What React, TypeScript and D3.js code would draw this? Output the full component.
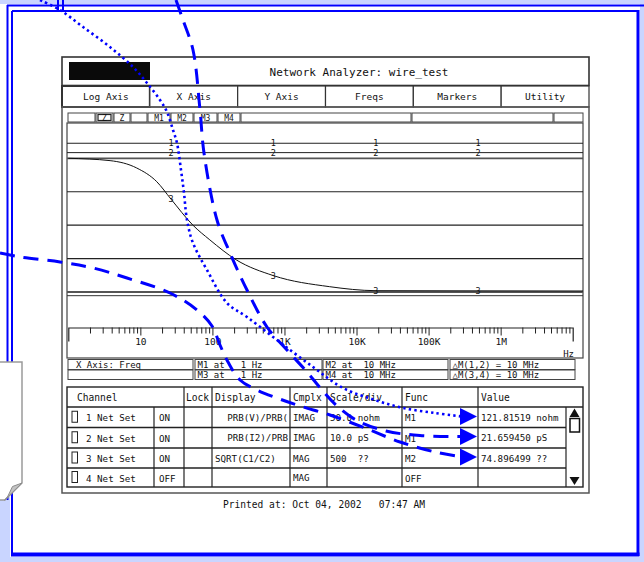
import React, { useEffect, useRef } from 'react'
import * as d3 from 'd3'

// ---- values ----
const tabs = ['Log Axis', 'X Axis', 'Y Axis', 'Freqs', 'Markers', 'Utility']
const toolButtons = ['', 'Z', 'Z', '', 'M1', 'M2', 'M3', 'M4', '', '', '']
const decades = [1, 10, 100, 1e3, 1e4, 1e5, 1e6, 1e7]
const decadeLabels = ['', '10', '100', '1K', '10K', '100K', '1M', '']
const markerFreqs = [26.6, 702, 18500, 487000]

// traces, in graticule divisions
const trace3Freqs = [1, 3.8, 8.9, 16.9, 26.6, 53.6, 92, 215, 702, 4200, 18500, 1.39e7]
const trace3Divs = [4.0, 3.93, 3.71, 3.3, 2.78, 2.0, 1.56, 0.96, 0.49, 0.16, 0.04, 0.03]
const trace1Div = 4.45
const trace2Div = 4.17
const trace4Div = -0.11

const infoRow1 = ['X Axis: Freq', 'M1 at   1 Hz', 'M2 at  10 MHz', '\u25B3M(1,2) = 10 MHz']
const infoRow2 = ['', 'M3 at   1 Hz', 'M4 at  10 MHz', '\u25B3M(3,4) = 10 MHz']

const headers = ['Channel', 'Lock', 'Display', 'Cmplx', 'Scale/div', 'Func', 'Value']
const channels = ['1 Net Set', '2 Net Set', '3 Net Set', '4 Net Set']
const states = ['ON', 'ON', 'ON', 'OFF']
const displays = ['PRB(V)/PRB(', 'PRB(I2)/PRB', 'SQRT(C1/C2)', '']
const cmplx = ['IMAG', 'IMAG', 'MAG', 'MAG']
const scales = ['50.0 nohm', '10.0 pS', '500  ??', '']
const funcs = ['M1', 'M1', 'M2', 'OFF']
const values = ['121.81519 nohm', '21.659450 pS', '74.896499 ??', '']
const printedAt = 'Printed at: Oct 04, 2002   07:47 AM'

// blue hand-drawn call-outs (page pixels)
const dottedPath: [number, number][] = [
    [40, 0], [60, 10], [83, 27], [110, 47], [133, 67], [147, 83], [160, 100], [167, 112],
    [173, 130], [177, 143], [181, 170], [184, 193], [187, 220], [193, 243], [207, 270],
    [227, 303], [247, 317], [277, 340], [313, 367], [343, 388], [375, 400], [403, 408],
    [435, 413], [462, 416.5],
]
const topDashPath: [number, number][] = [
    [176, 0], [183, 20], [193, 50], [200, 110], [204, 153], [217, 220], [230, 253],
    [247, 290], [267, 327], [287, 350], [307, 372], [322, 390], [336, 405], [356, 420],
    [386, 431], [420, 435.5], [462, 436.5],
]
const leftDashPath: [number, number][] = [
    [0, 253], [20, 257], [60, 262], [93, 268], [127, 278], [170, 293], [197, 310],
    [212, 326], [220, 345], [228, 362], [240, 380], [257, 390], [277, 398], [300, 406],
    [330, 415], [365, 428], [400, 442], [435, 452], [462, 457],
]

const FONT = '"DejaVu Sans Mono", "Liberation Mono", monospace'
const BLUE = '#0000ff'
const LIGHT = '#c9d5ff'

export default function App() {
    const svgRef = useRef<SVGSVGElement>(null)

    useEffect(() => {
        const svg = d3.select(svgRef.current)
        svg.selectAll('*').remove()

        const box = (x0: number, y0: number, x1: number, y1: number, stroke = '#444', sw = 1, fill = 'none') =>
            svg.append('rect').attr('x', x0).attr('y', y0).attr('width', x1 - x0).attr('height', y1 - y0)
                .attr('fill', fill).attr('stroke', stroke).attr('stroke-width', sw)
        const hline = (x0: number, x1: number, y: number, stroke = '#333', sw = 1) =>
            svg.append('line').attr('x1', x0).attr('x2', x1).attr('y1', y).attr('y2', y)
                .attr('stroke', stroke).attr('stroke-width', sw)
        const vline = (x: number, y0: number, y1: number, stroke = '#333', sw = 1) =>
            svg.append('line').attr('x1', x).attr('x2', x).attr('y1', y0).attr('y2', y1)
                .attr('stroke', stroke).attr('stroke-width', sw)
        const label = (s: string, x: number, y: number, size = 9.2, anchor = 'start') =>
            svg.append('text').attr('x', x).attr('y', y).attr('font-family', FONT)
                .attr('font-size', size).attr('text-anchor', anchor).attr('fill', '#111')
                .attr('xml:space', 'preserve').style('white-space', 'pre').text(s)

        // ---- outer blue frame ----
        svg.append('rect').attr('x', 0).attr('y', 0).attr('width', 644).attr('height', 4).attr('fill', LIGHT)
        svg.append('rect').attr('x', 640).attr('y', 0).attr('width', 4).attr('height', 562).attr('fill', LIGHT)
        svg.append('rect').attr('x', 0).attr('y', 557).attr('width', 644).attr('height', 5).attr('fill', LIGHT)
        svg.append('rect').attr('x', 0).attr('y', 497).attr('width', 10).attr('height', 65).attr('fill', LIGHT)
        hline(7, 644, 5.5, BLUE, 2)
        vline(7.5, 5, 500, BLUE, 2)
        vline(58, 0, 11, BLUE, 2)
        vline(63, 0, 11, BLUE, 2)
        hline(12, 638, 11, BLUE, 2)
        vline(12, 11, 555, BLUE, 2)
        vline(638, 10, 556, BLUE, 3)
        hline(11, 639.5, 554.5, BLUE, 4)

        // ---- title + tabs ----
        box(62, 57, 589, 85.5, '#333', 1.6, '#fff')
        svg.append('rect').attr('x', 69).attr('y', 62).attr('width', 81).attr('height', 18).attr('fill', '#0a0a0a')
        label('Network Analyzer: wire_test', 359, 76, 11, 'middle')

        const tabX = d3.scaleBand<string>().domain(tabs).range([62, 589])
        tabs.forEach((t, i) => {
            const x0 = tabX(t) as number
            box(x0, 86, x0 + tabX.bandwidth(), 107, '#333', i === 0 ? 2 : 1.2, '#fff')
            label(t, x0 + tabX.bandwidth() / 2, 100, 9.5, 'middle')
        })

        // ---- lower panel ----
        box(62, 107, 589, 493, '#555', 1.5)

        const btnEdges = [67, 95, 113, 130, 147, 170, 193, 217, 240, 411, 553, 583]
        toolButtons.forEach((b, i) => {
            box(btnEdges[i] + 1, 113, btnEdges[i + 1], 122, '#444', 1, '#fff')
            if (i === 1) box(btnEdges[i] + 3, 114.5, btnEdges[i + 1] - 2, 120.5, '#222', 1.2)
            if (b) label(b, (btnEdges[i] + btnEdges[i + 1]) / 2 + 0.5, 120.5, 8, 'middle')
        })

        // ---- trace plot ----
        const plotL = 67, plotR = 583
        box(plotL, 123, plotR, 358, '#444', 1.2)

        const x = d3.scaleLog().domain([decades[0], decades[decades.length - 1]]).range([68.3, 572.7])
        const y = d3.scaleLinear().domain([0, 4]).range([292, 158.3])

        d3.range(0, 5).forEach((d) => hline(plotL, plotR, y(d), d === 4 || d === 0 ? '#555' : '#222', d === 4 || d === 0 ? 1.8 : 1.1))
        hline(plotL, plotR, y(trace1Div), '#222', 1)
        hline(plotL, plotR, y(trace2Div), '#222', 1)
        hline(plotL, plotR, y(trace4Div), '#333', 1)

        const trace3 = trace3Freqs.map((f, i) => ({ f, v: trace3Divs[i] }))
        const line = d3.line<{ f: number; v: number }>().x((d) => x(d.f)).y((d) => y(d.v)).curve(d3.curveMonotoneX)
        svg.append('path').attr('d', line(trace3)).attr('fill', 'none').attr('stroke', '#111').attr('stroke-width', 1)

        const interp3 = (f: number) => {
            const lf = Math.log10(f)
            for (let i = 0; i < trace3.length - 1; i++) {
                const a = Math.log10(trace3[i].f), b = Math.log10(trace3[i + 1].f)
                if (lf >= a && lf <= b) return trace3[i].v + (trace3[i + 1].v - trace3[i].v) * (lf - a) / (b - a)
            }
            return trace3[trace3.length - 1].v
        }
        markerFreqs.slice(0, 4).forEach((f) => {
            const mx = x(f)
            label('1', mx, y(trace1Div) + 3, 8.5, 'middle')
            label('2', mx, y(trace2Div) + 3.2, 8.5, 'middle')
            label('3', mx, y(interp3(f)) + 3.2, 8.5, 'middle')
        })

        // ---- frequency axis ----
        const minor: number[] = []
        decades.slice(0, -1).forEach((d) => d3.range(2, 10).forEach((m) => minor.push(d * m)))
        const gMinor = svg.append('g').attr('transform', 'translate(0,327.5)')
            .call(d3.axisBottom(x).tickValues(minor).tickSize(6).tickSizeOuter(14).tickFormat(() => ''))
        gMinor.selectAll('line').attr('stroke', '#222')
        gMinor.select('.domain').attr('stroke', '#222').attr('stroke-width', 1.2)

        const gMajor = svg.append('g').attr('transform', 'translate(0,327.5)')
            .call(d3.axisBottom(x).tickValues(decades.slice(1, -1)).tickSize(8).tickPadding(3)
                .tickFormat((_d, i) => decadeLabels[i + 1]))
        gMajor.select('.domain').remove()
        gMajor.selectAll('line').attr('stroke', '#222')
        gMajor.selectAll('text').attr('font-family', FONT).attr('font-size', 9.5).attr('fill', '#111')
        label('Hz', 574, 357, 9, 'end')

        // ---- marker info rows ----
        const infoEdges = [[68, 193], [195, 322], [323, 448], [450, 575]]
        infoEdges.forEach(([a, b], i) => {
            box(a, 359.5, b, 369.5, '#444', 1)
            box(a, 370, b, 379.5, '#444', 1)
            label(infoRow1[i], a + (i === 0 ? 8 : 2.5), 367.5, 9)
            label(infoRow2[i], a + 2.5, 377.5, 9)
        })

        // ---- channel table ----
        const tb = 387, rowEdges = [407, 427.5, 448, 468, 487]
        box(plotL, tb, plotR, rowEdges[4], '#222', 1.4)
        hline(plotL, plotR, rowEdges[0], '#222', 1.4)
        const headEdges = [67, 184, 212, 290, 327, 402, 478]
        headEdges.slice(1).forEach((e) => vline(e, tb, rowEdges[4], '#222', 1.2))
        vline(154, rowEdges[0], rowEdges[4], '#222', 1.2)
        vline(566, rowEdges[0], rowEdges[4], '#222', 1.2)
        rowEdges.slice(1, 4).forEach((r) => hline(plotL, 566, r, '#222', 1.4))

        const headX = [77, 186, 215, 293, 330, 405, 481]
        headers.forEach((h, i) => label(h, headX[i], 401, 9.6))

        channels.forEach((c, i) => {
            const cy = (rowEdges[i] + rowEdges[i + 1]) / 2
            box(72, cy - 6, 77.5, cy + 5, '#222', 1)
            label(c, 86, cy + 4, 9.2)
            label(states[i], 159, cy + 4, 9.2)
            if (i < 2) label(displays[i], 288, cy + 3.5, 9.2, 'end')
            else label(displays[i], 215, cy + 3.5, 9.2)
            label(cmplx[i], 293, cy + 3.5, 9.2)
            label(scales[i], 330, cy + 3.5, 9.2)
            label(funcs[i], 405, cy + 4, 9.2)
            label(values[i], 481, cy + 3.5, 9.2)
        })

        // scrollbar
        svg.append('path').attr('d', 'M574.5,408.5 L579.5,417 L569.5,417 Z').attr('fill', '#111')
        box(570, 418.5, 579.5, 432, '#111', 1.5, '#fff')
        svg.append('path').attr('d', 'M569.5,477 L579.5,477 L574.5,485 Z').attr('fill', '#111')

        label(printedAt, 324, 508, 9.6, 'middle')

        // ---- paper note with page curl ----
        svg.append('path').attr('d', 'M-2,362 L22,362 L22,483 L5,500 L-2,500 Z')
            .attr('fill', '#fff').attr('stroke', '#9a9a9a').attr('stroke-width', 1.5)
        svg.append('path').attr('d', 'M22,483 L12.5,486.5 L7,498 L4.5,500 Z')
            .attr('fill', '#c4c4c4').attr('stroke', '#8c8c8c').attr('stroke-width', 1)

        // ---- blue call-outs ----
        const curve = d3.line().curve(d3.curveCatmullRom.alpha(0.5))
        svg.append('path').attr('d', curve(dottedPath)).attr('fill', 'none').attr('stroke', BLUE)
            .attr('stroke-width', 2.6).attr('stroke-dasharray', '2.4 3.2')
        svg.append('path').attr('d', curve(topDashPath)).attr('fill', 'none').attr('stroke', BLUE)
            .attr('stroke-width', 3).attr('stroke-dasharray', '15 9')
        svg.append('path').attr('d', curve(leftDashPath)).attr('fill', 'none').attr('stroke', BLUE)
            .attr('stroke-width', 3).attr('stroke-dasharray', '15 9')
        ;[dottedPath, topDashPath, leftDashPath].forEach((p) => {
            const [ex, ey] = p[p.length - 1]
            svg.append('path').attr('d', `M${ex - 2},${ey - 8.5} L${ex + 15},${ey} L${ex - 2},${ey + 8.5} Z`).attr('fill', BLUE)
        })
    }, [])

    return (
        <svg ref={svgRef} width={644} height={562}
            style={{ position: 'absolute', left: 0, top: 0, background: '#fff' }} />
    )
}
